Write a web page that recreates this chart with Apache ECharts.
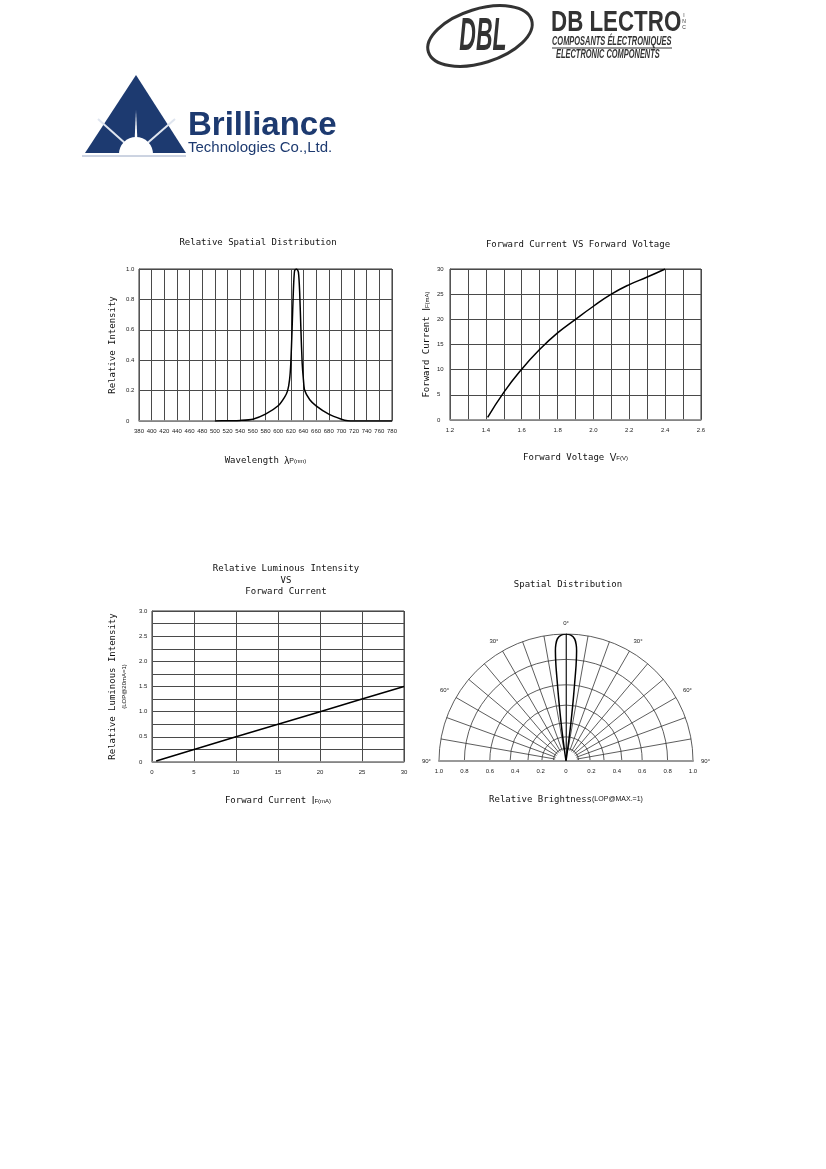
<!DOCTYPE html>
<html>
<head>
<meta charset="utf-8">
<title>LED characteristics</title>
<script src="https://cdn.jsdelivr.net/npm/echarts@6/dist/echarts.min.js"></script>
<style>
html, body { margin: 0; padding: 0; background: #fff; }
#main { width: 826px; height: 1169px; }
</style>
</head>
<body>
<div id="main"></div>
<script>
var myChart = echarts.init(document.getElementById('main'));

var monoFont = '"DejaVu Sans Mono", "Liberation Mono", monospace';
var tickFont = '"Liberation Sans", Arial, sans-serif';

// Relative Spatial Distribution (光谱)
var waveLength = [500, 520, 540, 560, 580, 600, 610, 615, 618, 620, 622, 624, 626, 629, 632, 634, 636, 638, 640, 642, 650, 660, 680, 700, 710, 720, 740, 760, 780];
var waveIntensity = [0, 0.002, 0.004, 0.012, 0.045, 0.1, 0.155, 0.2, 0.27, 0.38, 0.6, 0.85, 0.99, 1.0, 0.98, 0.85, 0.6, 0.38, 0.27, 0.2, 0.14, 0.1, 0.045, 0.012, 0.002, 0, 0, 0, 0];
var waveAxis = [380, 780, 20];
var waveIntensityAxis = [0, 1, 0.2];

// Forward Current VS Forward Voltage
var fwdVoltage = [1.41, 1.5, 1.6, 1.7, 1.8, 1.9, 2.0, 2.1, 2.2, 2.3, 2.4];
var fwdCurrent = [0.5, 5.5, 10.1, 14, 17.3, 20, 22.6, 25, 26.9, 28.4, 30];
var voltAxis = [1.2, 2.6, 0.1];
var currentAxis = [0, 30, 5];

// Relative Luminous Intensity VS Forward Current
var lumCurrent = [0.5, 5, 10, 15, 20, 25, 30];
var lumRelative = [0.02, 0.25, 0.5, 0.75, 1.0, 1.25, 1.5];
var lumCurrentAxis = [0, 30, 5];
var lumAxis = [0, 3, 0.25];

// Spatial Distribution (极坐标)
var beamAngle = [-8.6, -8, -7.6, -7.1, -6.7, -6.3, -6, -5.5, -5, -4, -2, 0, 2, 4, 5, 5.5, 6, 6.3, 6.7, 7.1, 7.6, 8, 8.6];
var beamRadius = [0, 0.1, 0.23, 0.37, 0.5, 0.63, 0.76, 0.87, 0.92, 0.965, 0.993, 1, 0.993, 0.965, 0.92, 0.87, 0.76, 0.63, 0.5, 0.37, 0.23, 0.1, 0];
var ringValues = [0.1, 0.19, 0.3, 0.44, 0.6, 0.8, 1];
var angleAxisRange = [-90, 90, 10];

function pairs(xs, ys) {
    return xs.map(function (x, i) { return [x, ys[i]]; });
}
function oneDecimal(v) {
    return Math.abs(v) < 1e-9 ? '0' : Math.abs(v).toFixed(1);
}
function splitStyle() {
    return { show: true, lineStyle: { color: '#4a4a4a', width: 1 } };
}
var nameRich = {
    a: { fontFamily: monoFont, fontSize: 9, color: '#111' },
    L: { fontFamily: monoFont, fontSize: 9, color: '#111', lineHeight: 13 },
    i: { fontFamily: tickFont, fontSize: 10, color: '#111' },
    s: { fontFamily: tickFont, fontSize: 6, color: '#111' },
    S: { fontFamily: tickFont, fontSize: 6, color: '#111', lineHeight: 11 },
    m: { fontFamily: tickFont, fontSize: 7, color: '#111' }
};
function xAxisOf(grid, range, fmt, name, gap) {
    return {
        type: 'value', gridIndex: grid, min: range[0], max: range[1], interval: range[2],
        axisLine: { lineStyle: { color: '#999', width: 1.5 } },
        axisTick: { show: false },
        axisLabel: { fontFamily: tickFont, fontSize: 6, color: '#222', margin: 7, formatter: fmt },
        splitLine: splitStyle(),
        name: name, nameLocation: 'middle', nameGap: gap,
        nameTextStyle: { rich: nameRich }
    };
}
function yAxisOf(grid, range, fmt, name, gap) {
    return {
        type: 'value', gridIndex: grid, min: range[0], max: range[1], interval: range[2],
        axisLine: { lineStyle: { color: '#555', width: 1 } },
        axisTick: { show: false },
        axisLabel: { fontFamily: tickFont, fontSize: 6, color: '#222', margin: 13, align: 'left', formatter: fmt },
        splitLine: splitStyle(),
        name: name, nameLocation: 'middle', nameGap: gap, nameRotate: 90,
        nameTextStyle: { rich: nameRich }
    };
}
function title(text, x, y) {
    return {
        type: 'text', x: x, y: y,
        style: { text: text, font: '9px ' + monoFont, fill: '#111', align: 'center', verticalAlign: 'middle' }
    };
}

var logos = [
    // Brilliance
    { type: 'polygon', shape: { points: [[136, 75], [85, 153], [186, 153]] }, style: { fill: '#1d3a70' } },
    { type: 'line', shape: { x1: 136, y1: 153, x2: 98, y2: 119 }, style: { stroke: '#dfe5ef', lineWidth: 2 } },
    { type: 'line', shape: { x1: 136, y1: 153, x2: 175, y2: 119 }, style: { stroke: '#dfe5ef', lineWidth: 2 } },
    { type: 'polygon', shape: { points: [[134, 153], [136, 110], [138, 153]] }, style: { fill: '#fff' } },
    { type: 'sector', shape: { cx: 136, cy: 154, r: 17, r0: 0, startAngle: Math.PI, endAngle: Math.PI * 2 }, style: { fill: '#fff' } },
    { type: 'line', shape: { x1: 82, y1: 156, x2: 186, y2: 156 }, style: { stroke: '#9aa8c4', lineWidth: 1 } },
    { type: 'text', x: 188, y: 126, style: { text: 'Brilliance', font: 'bold 33px "Liberation Sans", Arial', fill: '#1d3a70', verticalAlign: 'middle' } },
    { type: 'text', x: 188, y: 148, style: { text: 'Technologies Co.,Ltd.', font: '15px "Liberation Sans", Arial', fill: '#1d3a70', verticalAlign: 'middle' } },
    // DB Lectro
    { type: 'ellipse', x: 480, y: 36, rotation: 0.3, shape: { cx: 0, cy: 0, rx: 54, ry: 27 }, style: { fill: 'none', stroke: '#333', lineWidth: 3 } },
    { type: 'text', x: 483, y: 37, scaleX: 0.5, style: { text: 'DBL', font: 'italic bold 46px "Liberation Sans", Arial', fill: '#333', align: 'center', verticalAlign: 'middle' } },
    { type: 'text', x: 551, y: 23, scaleX: 0.77, style: { text: 'DB LECTRO', font: 'bold 29px "Liberation Sans", Arial', fill: '#333', verticalAlign: 'middle' } },
    { type: 'text', x: 684, y: 22, style: { text: 'I\nN\nC', font: '5px "Liberation Sans", Arial', fill: '#333', align: 'center', verticalAlign: 'middle', lineHeight: 6 } },
    { type: 'text', x: 552, y: 42, scaleX: 0.62, style: { text: 'COMPOSANTS ÉLECTRONIQUES', font: 'italic bold 12px "Liberation Sans", Arial', fill: '#333', verticalAlign: 'middle' } },
    { type: 'line', shape: { x1: 552, y1: 48, x2: 672, y2: 48 }, style: { stroke: '#333', lineWidth: 1 } },
    { type: 'text', x: 556, y: 55, scaleX: 0.62, style: { text: 'ELECTRONIC COMPONENTS', font: 'italic bold 12px "Liberation Sans", Arial', fill: '#333', verticalAlign: 'middle' } }
];

option = {
    backgroundColor: '#fff',
    animation: false,
    graphic: logos.concat([
        title('Relative Spatial Distribution', 258, 243),
        title('Forward Current VS Forward Voltage', 578, 245),
        title('Relative Luminous Intensity', 286, 569),
        title('VS', 286, 581),
        title('Forward Current', 286, 592),
        title('Spatial Distribution', 568, 585)
    ]),
    grid: [
        { left: 139, top: 269, width: 253, height: 152, show: true, borderColor: '#333', borderWidth: 1 },
        { left: 450, top: 269, width: 251, height: 151, show: true, borderColor: '#333', borderWidth: 1 },
        { left: 152, top: 611, width: 252, height: 151, show: true, borderColor: '#333', borderWidth: 1 },
        { left: 439, top: 634, width: 254, height: 127 }
    ],
    xAxis: [
        xAxisOf(0, waveAxis, function (v) { return v; }, '{a|Wavelength }{i|λ}{m|P}{s|(nm)}', 35),
        xAxisOf(1, voltAxis, function (v) { return Math.round(v * 10) % 2 === 0 ? v.toFixed(1) : ''; }, '{a|Forward Voltage }{i|V}{s|F(V)}', 33),
        xAxisOf(2, lumCurrentAxis, function (v) { return v; }, '{a|Forward Current }{i|I}{s|F(mA)}', 34),
        {
            type: 'value', gridIndex: 3, min: -1, max: 1, interval: 0.2,
            axisLine: { lineStyle: { color: '#999', width: 2 } },
            axisTick: { show: false },
            axisLabel: { fontFamily: tickFont, fontSize: 6, color: '#222', margin: 7, formatter: oneDecimal },
            splitLine: { show: false },
            name: '{a|Relative Brightness}{m|(LOP@MAX.=1)}', nameLocation: 'middle', nameGap: 34,
            nameTextStyle: { rich: nameRich }
        }
    ],
    yAxis: [
        yAxisOf(0, waveIntensityAxis, oneDecimal, '{a|Relative Intensity}', 22),
        yAxisOf(1, currentAxis, function (v) { return v; }, '{a|Forward Current }{i|I}{s|F(mA)}', 18),
        yAxisOf(2, lumAxis, function (v) { return Math.round(v * 100) % 50 === 0 ? oneDecimal(v) : ''; },
            '{L|Relative Luminous Intensity}\n{S|(LOP@20mA=1)}', 22),
        {
            type: 'value', gridIndex: 3, min: 0, max: 1,
            axisLine: { onZero: true, lineStyle: { color: '#333', width: 1 } },
            axisTick: { show: false }, axisLabel: { show: false }, splitLine: { show: false }
        }
    ],
    polar: [
        { center: [566, 761], radius: [11, 127] },
        { center: [566, 761], radius: [0, 127] }
    ],
    angleAxis: [
        {
            polarIndex: 0, type: 'value', min: angleAxisRange[0], max: angleAxisRange[1], interval: angleAxisRange[2],
            startAngle: 180, endAngle: 0, clockwise: true,
            axisLine: { show: false }, axisTick: { show: false },
            axisLabel: {
                fontFamily: tickFont, fontSize: 6, color: '#222', margin: 8,
                formatter: function (v) { return v % 30 === 0 ? Math.abs(v) + '°' : ''; }
            },
            splitLine: { show: true, lineStyle: { color: '#333', width: 0.8 } }
        },
        {
            polarIndex: 1, type: 'value', min: angleAxisRange[0], max: angleAxisRange[1],
            startAngle: 180, endAngle: 0, clockwise: true,
            axisLine: { show: false }, axisTick: { show: false }, axisLabel: { show: false }, splitLine: { show: false }
        }
    ],
    radiusAxis: [
        { polarIndex: 0, min: 0, max: 1, show: false },
        {
            polarIndex: 1, min: 0, max: 1,
            axisLine: { show: false }, axisLabel: { show: false },
            axisTick: { show: false, customValues: ringValues },
            splitLine: { show: true, lineStyle: { color: '#333', width: 0.8 } }
        }
    ],
    series: [
        {
            type: 'line', xAxisIndex: 0, yAxisIndex: 0, data: pairs(waveLength, waveIntensity),
            symbol: 'none', smooth: 0.25, lineStyle: { color: '#000', width: 1.5 }
        },
        {
            type: 'line', xAxisIndex: 1, yAxisIndex: 1, data: pairs(fwdVoltage, fwdCurrent),
            symbol: 'none', smooth: true, lineStyle: { color: '#000', width: 1.5 }
        },
        {
            type: 'line', xAxisIndex: 2, yAxisIndex: 2, data: pairs(lumCurrent, lumRelative),
            symbol: 'none', lineStyle: { color: '#000', width: 1.5 }
        },
        {
            type: 'line', coordinateSystem: 'polar', polarIndex: 1, data: pairs(beamRadius, beamAngle),
            symbol: 'none', smooth: 0.3, lineStyle: { color: '#000', width: 1.5 }
        }
    ]
};
myChart.setOption(option);

window.addEventListener('resize', function () {
    myChart.resize();
});
</script>
</body>
</html>
